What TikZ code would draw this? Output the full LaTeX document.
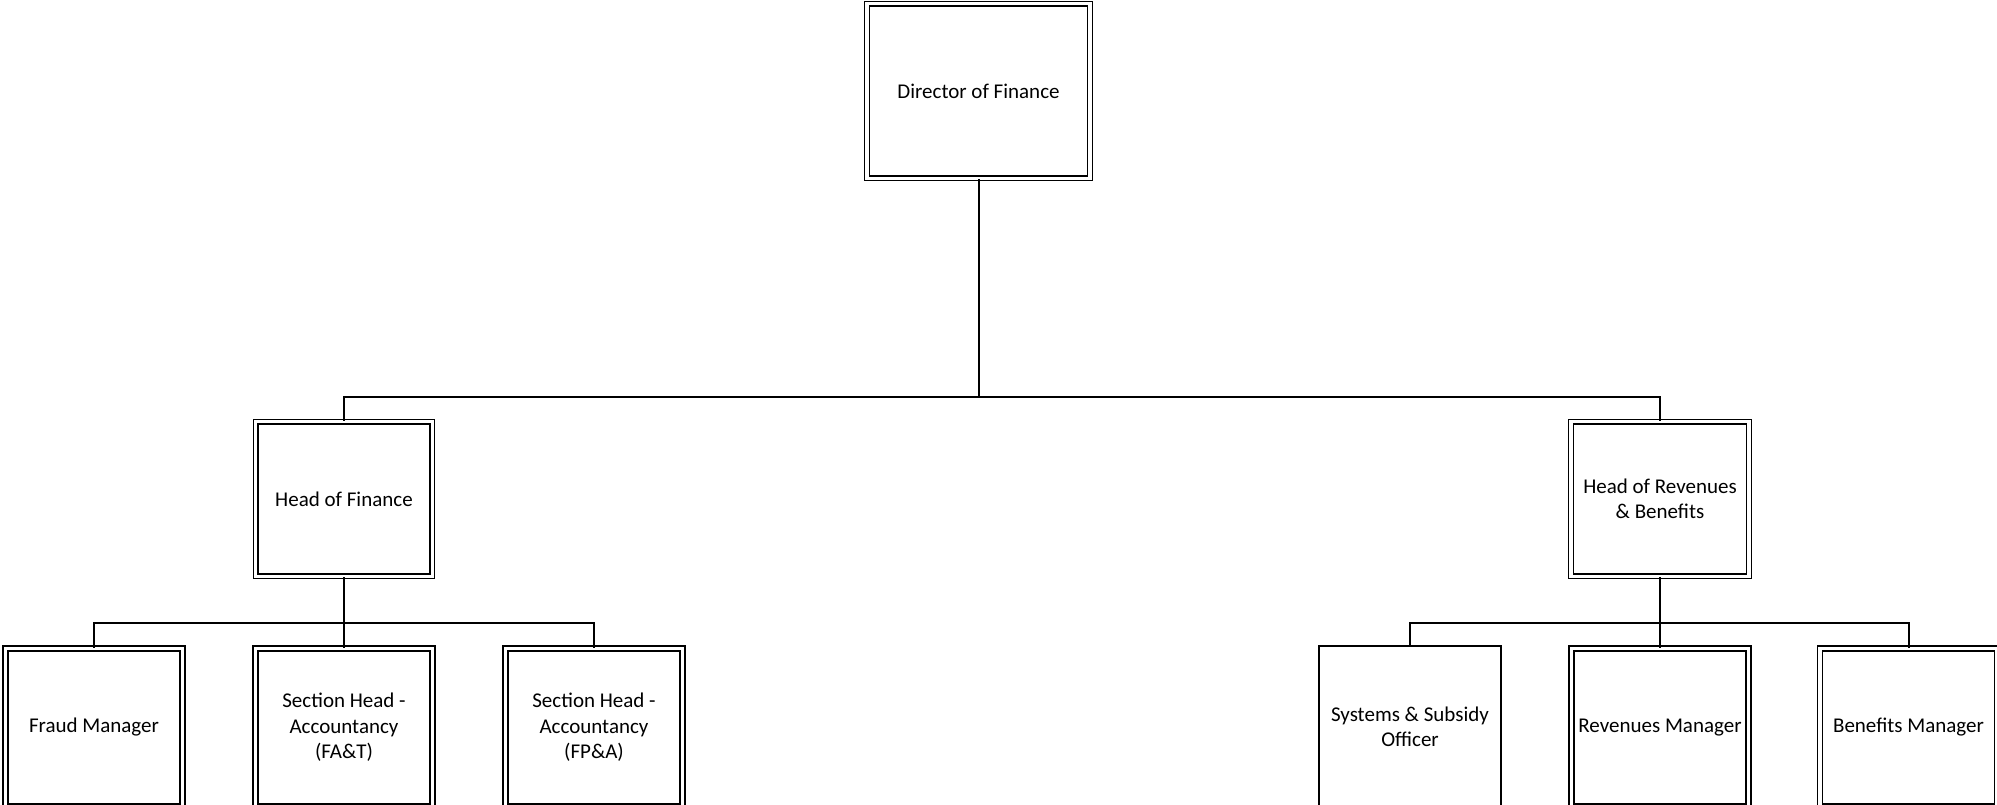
\documentclass[tikz,border=0pt]{standalone}
\usepackage{fontspec}
\setmainfont{Carlito}
\begin{document}
\begin{tikzpicture}[x=1pt,y=-1pt,
  dbox/.style={draw=black, line width=1.6pt, double=white, double distance=3.2pt,
    fill=white, inner sep=0pt, align=center,
    font=\fontsize{21}{25.5}\selectfont},
  sbox/.style={draw=black, line width=2pt, fill=white, inner sep=0pt, align=center,
    font=\fontsize{21}{25.5}\selectfont},
  conn/.style={draw=black, line width=2pt}]
\useasboundingbox (0,0) rectangle (1997,805);
\clip (0,0) rectangle (1997,805);
% nodes
\node[dbox, minimum width=223pt, minimum height=174.5pt] (dir) at (978.5,91) {Director of Finance};
\node[dbox, minimum width=176.5pt, minimum height=154.5pt] (hof) at (344,499) {Head of Finance};
\node[dbox, minimum width=178pt, minimum height=154.5pt] (hor) at (1660,499) {Head of Revenues\\\& Benefits};
\node[dbox, minimum width=177pt, minimum height=158pt] (fraud) at (94,727.5) {Fraud Manager};
\node[dbox, minimum width=177pt, minimum height=158pt] (fat) at (344,727.5) {Section Head -\\Accountancy\\(FA\&T)};
\node[dbox, minimum width=177pt, minimum height=158pt] (fpa) at (594,727.5) {Section Head -\\Accountancy\\(FP\&A)};
\node[sbox, minimum width=182pt, minimum height=162pt] (sys) at (1410,727) {Systems \& Subsidy\\Officer};
\node[dbox, minimum width=177pt, minimum height=158pt] (rev) at (1660,727.5) {Revenues Manager};
\node[dbox, minimum width=177pt, minimum height=158pt] (ben) at (1908.5,727.5) {Benefits Manager};
% junctions
\coordinate (j1) at (978.5,397);
\coordinate (j2) at (344,623);
\coordinate (j3) at (1660,623);
% connectors
\draw[conn] (dir.south) -- (j1);
\draw[conn] (hof.north) |- (j1) -| (hor.north);
\draw[conn] (hof.south) -- (j2);
\draw[conn] (fraud.north) |- (j2) -| (fpa.north);
\draw[conn] (j2) -- (fat.north);
\draw[conn] (hor.south) -- (j3);
\draw[conn] (sys.north) |- (j3) -| (ben.north);
\draw[conn] (j3) -- (rev.north);
\end{tikzpicture}
\end{document}
